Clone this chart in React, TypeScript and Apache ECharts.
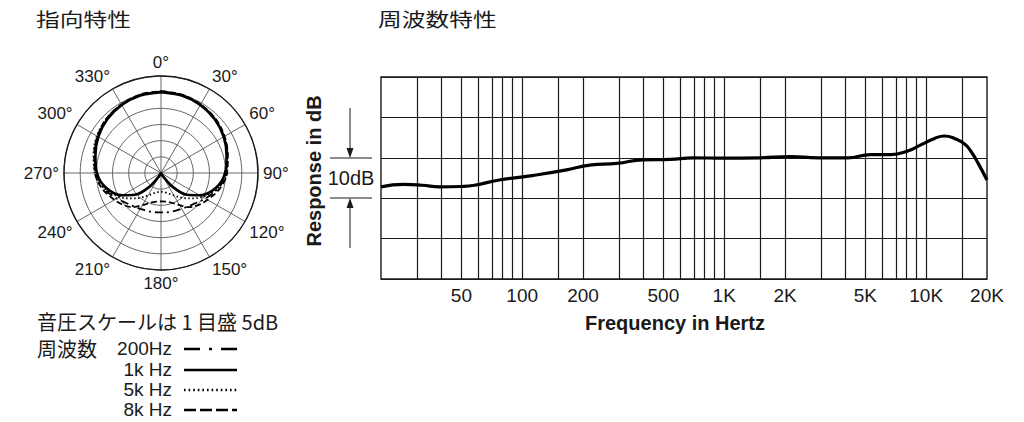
import React, { useEffect, useRef } from 'react';
import * as echarts from 'echarts';

// ---------- Polar pattern data (radius scale 0..30, 5 dB per ring; 25 = 0 dB) ----------
const POLAR_ANGLES = [0, 15, 30, 45, 60, 75, 90, 105, 120, 130, 140, 150, 165, 180, 195, 210, 220, 230, 240, 255, 270, 285, 300, 315, 330, 345, 360];
const R_200HZ = [25.2, 25.0, 24.4, 23.6, 22.5, 21.2, 20.0, 18.3, 15.8, 14.3, 13.4, 12.8, 12.4, 12.2, 12.4, 12.8, 13.4, 14.3, 15.8, 18.3, 20.0, 21.2, 22.5, 23.6, 24.4, 25.0, 25.2];
const R_1KHZ = [25.0, 24.8, 24.3, 23.5, 22.4, 21.0, 19.8, 17.6, 13.8, 10.5, 5.5, 1.0, 0, 0, 0, 1.0, 5.5, 10.5, 13.8, 17.6, 19.8, 21.0, 22.4, 23.5, 24.3, 24.8, 25.0];
const R_5KHZ = [25.1, 24.9, 24.4, 23.7, 22.6, 21.3, 20.4, 18.2, 14.8, 12.2, 10.0, 8.0, 6.3, 5.8, 6.3, 8.0, 10.0, 12.2, 14.8, 18.2, 20.5, 21.6, 22.9, 23.8, 24.5, 24.9, 25.1];
const R_8KHZ = [25.3, 25.1, 24.5, 23.8, 22.7, 21.4, 20.4, 18.8, 16.6, 15.3, 13.8, 11.5, 9.3, 8.8, 9.3, 11.5, 13.8, 15.3, 16.6, 18.8, 20.4, 21.4, 22.7, 23.8, 24.5, 25.1, 25.3];

// ---------- Frequency response data ----------
const FREQS = [20, 26, 32, 39, 50, 58, 77, 112, 166, 216, 294, 396, 539, 700, 990, 1510, 2130, 2900, 4080, 5300, 6700, 8100, 9400, 11000, 12300, 13800, 15500, 16700, 18000, 20000];
const RESPONSE = [22.8, 23.4, 23.2, 22.8, 22.9, 23.2, 24.5, 25.6, 27.0, 28.2, 28.6, 29.5, 29.6, 30.0, 29.9, 30.0, 30.3, 30.0, 30.0, 30.8, 30.8, 31.7, 33.2, 34.8, 35.4, 34.8, 33.4, 31.5, 28.8, 24.5];
const GRID_FREQS = [30, 40, 50, 60, 70, 80, 90, 100, 150, 200, 300, 400, 500, 600, 700, 800, 900, 1000, 1500, 2000, 3000, 4000, 5000, 6000, 7000, 8000, 9000, 10000, 15000];
const X_LABEL_FREQS = [50, 100, 200, 500, 1000, 2000, 5000, 10000, 20000];
const X_LABELS = ['50', '100', '200', '500', '1K', '2K', '5K', '10K', '20K'];
const F_MIN = 20;
const F_MAX = 20000;

// ---------- Legend ----------
const LEGEND_LABELS = ['200Hz', '1k Hz', '5k Hz', '8k Hz'];

const LATIN = '"Liberation Sans", Arial, Helvetica, sans-serif';
const CJK = '"Noto Sans CJK JP", "Noto Sans", sans-serif';
const INK = '#1a1a1a';

const DASH_200 = [8, 4, 2, 4];
const DASH_5K = [1.5, 2.5];
const DASH_8K = [6, 3];

export default function App() {
  const ref = useRef<HTMLDivElement>(null);

  useEffect(() => {
    if (!ref.current) return;
    const chart = echarts.init(ref.current, undefined, { renderer: 'svg' });
    const lg = (f: number) => Math.log10(f);

    const polarSeries = (vals: number[], dash: any, width: number) => ({
      type: 'line',
      coordinateSystem: 'polar',
      polarIndex: 0,
      data: POLAR_ANGLES.map((a, i) => [vals[i], a]),
      smooth: 0.35,
      symbol: 'none',
      silent: true,
      lineStyle: { color: '#000', width, type: dash },
      z: 4,
    });

    const legendRowsY = [348, 369, 389, 409];
    const legendSampleDash: any[] = [[16, 9, 3, 9], 'solid', [1.6, 3], [12, 4]];

    const graphics: any[] = [
      { type: 'text', x: 36, y: 19, scaleX: 1.25, style: { text: '指向特性', fontSize: 19, fontFamily: CJK, fill: INK, align: 'left', verticalAlign: 'middle', textAlign: 'left', textVerticalAlign: 'middle' } },
      { type: 'text', x: 378, y: 19, scaleX: 1.25, style: { text: '周波数特性', fontSize: 19, fontFamily: CJK, fill: INK, align: 'left', verticalAlign: 'middle', textAlign: 'left', textVerticalAlign: 'middle' } },
      // y-axis title
      { type: 'text', x: 314, y: 171, rotation: Math.PI / 2, style: { text: 'Response in dB', fontSize: 20, fontWeight: 'bold', fontFamily: LATIN, fill: INK, align: 'center', verticalAlign: 'middle', textAlign: 'center', textVerticalAlign: 'middle' } },
      { type: 'text', x: 351, y: 178, style: { text: '10dB', fontSize: 20, fontFamily: LATIN, fill: INK, align: 'center', verticalAlign: 'middle', textAlign: 'center', textVerticalAlign: 'middle' } },
      { type: 'line', shape: { x1: 330, y1: 158, x2: 372, y2: 158 }, style: { stroke: INK, lineWidth: 1.2 } },
      { type: 'line', shape: { x1: 330, y1: 198, x2: 372, y2: 198 }, style: { stroke: INK, lineWidth: 1.2 } },
      { type: 'line', shape: { x1: 350, y1: 108, x2: 350, y2: 150 }, style: { stroke: INK, lineWidth: 1 } },
      { type: 'polygon', shape: { points: [[346.5, 148], [353.5, 148], [350, 158]] }, style: { fill: INK } },
      { type: 'line', shape: { x1: 350, y1: 248, x2: 350, y2: 206 }, style: { stroke: INK, lineWidth: 1 } },
      { type: 'polygon', shape: { points: [[346.5, 208], [353.5, 208], [350, 198]] }, style: { fill: INK } },
      // x-axis title
      { type: 'text', x: 675, y: 323, style: { text: 'Frequency in Hertz', fontSize: 20, fontWeight: 'bold', fontFamily: LATIN, fill: INK, align: 'center', verticalAlign: 'middle', textAlign: 'center', textVerticalAlign: 'middle' } },
      // legend
      { type: 'text', x: 37, y: 321, style: { text: '音圧スケールは 1 目盛 5dB', fontSize: 20, fontFamily: CJK, fill: INK, align: 'left', verticalAlign: 'middle', textAlign: 'left', textVerticalAlign: 'middle' } },
      { type: 'text', x: 37, y: 348, style: { text: '周波数', fontSize: 20, fontFamily: CJK, fill: INK, align: 'left', verticalAlign: 'middle', textAlign: 'left', textVerticalAlign: 'middle' } },
    ];
    LEGEND_LABELS.forEach((lab, i) => {
      graphics.push({ type: 'text', x: 172, y: legendRowsY[i], style: { text: lab, fontSize: 19, fontFamily: LATIN, fill: INK, align: 'right', verticalAlign: 'middle', textAlign: 'right', textVerticalAlign: 'middle' } });
      graphics.push({ type: 'line', shape: { x1: 184, y1: legendRowsY[i] + 1, x2: 237, y2: legendRowsY[i] + 1 }, style: { stroke: '#000', lineWidth: 2.6, lineDash: legendSampleDash[i] === 'solid' ? null : legendSampleDash[i] } });
    });

    const option: any = {
      animation: false,
      backgroundColor: '#fff',
      textStyle: { fontFamily: LATIN },
      polar: { center: [161, 173], radius: 97 },
      angleAxis: {
        type: 'value', min: 0, max: 360, interval: 30, startAngle: 90, clockwise: true,
        axisLine: { show: true, lineStyle: { color: INK, width: 1.4 } },
        axisTick: { show: false },
        axisLabel: { show: true, margin: 5, fontSize: 17, color: INK, fontFamily: LATIN, formatter: (v: number) => (v === 360 ? '' : v + '°') },
        splitLine: { show: true, lineStyle: { color: '#666', width: 1 } },
      },
      radiusAxis: {
        type: 'value', min: 0, max: 30, interval: 5,
        axisLine: { show: false }, axisTick: { show: false }, axisLabel: { show: false },
        splitLine: { show: true, lineStyle: { color: '#666', width: 1 } },
      },
      grid: { left: 381, top: 77, width: 606, height: 202, show: true, borderColor: INK, borderWidth: 1.4, backgroundColor: 'transparent' },
      xAxis: {
        type: 'value', min: lg(F_MIN), max: lg(F_MAX),
        axisLine: { show: false }, axisTick: { show: false }, splitLine: { show: false },
        axisLabel: {
          show: true, margin: 7, fontSize: 19, color: INK, fontFamily: LATIN,
          customValues: X_LABEL_FREQS.map(lg),
          formatter: (v: number) => {
            const i = X_LABEL_FREQS.findIndex((f) => Math.abs(lg(f) - v) < 1e-6);
            return i >= 0 ? X_LABELS[i] : '';
          },
        },
      },
      yAxis: {
        type: 'value', min: 0, max: 50, interval: 10,
        axisLine: { show: false }, axisTick: { show: false }, axisLabel: { show: false },
        splitLine: { show: true, lineStyle: { color: INK, width: 1.2 } },
      },
      graphic: graphics,
      series: [
        {
          type: 'line', data: [[lg(F_MIN), 0]], symbol: 'none', lineStyle: { opacity: 0 }, silent: true, z: 1,
          markLine: {
            silent: true, symbol: ['none', 'none'], label: { show: false }, animation: false,
            lineStyle: { color: INK, width: 1.2, type: 'solid' },
            emphasis: { disabled: true },
            data: GRID_FREQS.map((f) => ({ xAxis: lg(f) })),
          },
        },
        {
          type: 'line', data: FREQS.map((f, i) => [lg(f), RESPONSE[i]]), smooth: true, symbol: 'none', silent: true,
          lineStyle: { color: '#000', width: 3.2 }, z: 5,
        },
        polarSeries(R_200HZ, DASH_200, 1.8),
        polarSeries(R_5KHZ, DASH_5K, 1.8),
        polarSeries(R_8KHZ, DASH_8K, 1.8),
        polarSeries(R_1KHZ, 'solid', 2.6),
      ],
    };
    chart.setOption(option);
    return () => chart.dispose();
  }, []);

  return <div ref={ref} style={{ position: 'fixed', left: 0, top: 0, width: 1024, height: 422, background: '#fff' }} />;
}
